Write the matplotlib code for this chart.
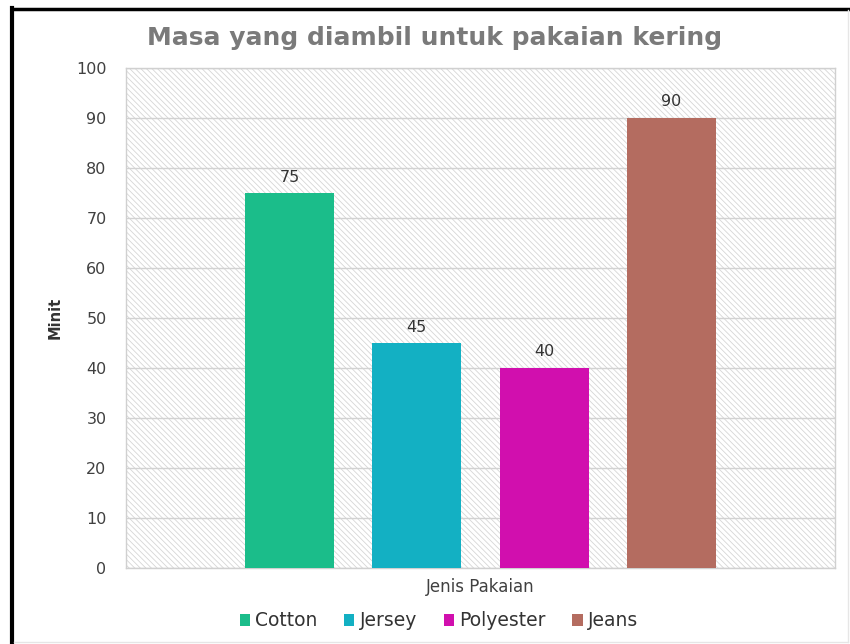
import matplotlib.pyplot as plt
from matplotlib.patches import Rectangle
from matplotlib.lines import Line2D

plt.rcParams['font.family'] = ['DejaVu Sans']
plt.rcParams['hatch.linewidth'] = 0.6
plt.rcParams['hatch.color'] = '#d6d6d6'

jenis = ['Cotton', 'Jersey', 'Polyester', 'Jeans']
minit = [75, 45, 40, 90]
warna = ['#1bbd8a', '#13b0c3', '#d10fae', '#b46c60']
yticks = list(range(0, 101, 10))

W, H = 850, 644
fig = plt.figure(figsize=(W / 100, H / 100), dpi=100)
# plot area in pixels: left 126, right 835, top 68, bottom 568
ax = fig.add_axes([126 / W, 1 - 568 / H, (835 - 126) / W, (568 - 68) / H])

# hatched background
bg = Rectangle((0, 0), 1, 1, transform=ax.transAxes, facecolor='white',
               edgecolor='#d6d6d6', hatch='\\\\\\\\\\\\', lw=0, zorder=0)
ax.add_patch(bg)
ax.set_facecolor('white')

for y in yticks:
    ax.axhline(y, color='#d2d2d2', lw=1, zorder=1)

x = list(range(len(jenis)))
bars = ax.bar(x, minit, width=0.7, color=warna, label=jenis, zorder=3)
for xi, v in zip(x, minit):
    ax.text(xi, v + 1.7, str(v), ha='center', va='bottom', fontsize=11.5,
            color='#333333', zorder=4)

ax.set_xlim(-1.285, 4.285)
ax.set_ylim(0, 100)
ax.set_yticks(yticks)
ax.set_yticklabels([str(t) for t in yticks], fontsize=11.5, color='#404040')
ax.set_xticks([])
ax.tick_params(axis='y', length=0, pad=14)
for s in ax.spines.values():
    s.set_color('#d0d0d0')
    s.set_linewidth(1)

ax.set_ylabel('Minit', fontsize=10.5, fontweight='bold', color='#333333', labelpad=10)
ax.set_xlabel('Jenis Pakaian', fontsize=12, color='#404040', labelpad=7)

fig.text(435 / W, 1 - 38 / H, 'Masa yang diambil untuk pakaian kering',
         ha='center', va='center', fontsize=18, fontweight='bold', color='#7a7a7a')

leg = fig.legend(handles=bars, labels=jenis, loc='center', ncol=4,
                 bbox_to_anchor=(439 / W, 1 - 621 / H), frameon=False,
                 fontsize=13.5, handlelength=0.55, handleheight=0.55,
                 handletextpad=0.3, columnspacing=1.4)
for t in leg.get_texts():
    t.set_color('#333333')

# outer frame
fig.add_artist(Line2D([12 / W, 12 / W], [0, 1 - 8 / H], color='black', lw=3,
                      transform=fig.transFigure))
fig.add_artist(Line2D([12 / W, 1], [1 - 9 / H, 1 - 9 / H], color='black', lw=2.5,
                      transform=fig.transFigure))
fig.add_artist(Line2D([848 / W, 848 / W], [1 - 642 / H, 1 - 10 / H], color='#e6e6e6',
                      lw=1, transform=fig.transFigure))
fig.add_artist(Line2D([14 / W, 848 / W], [1 - 642 / H, 1 - 642 / H], color='#e6e6e6',
                      lw=1, transform=fig.transFigure))

fig.savefig('out.png', dpi=100)
